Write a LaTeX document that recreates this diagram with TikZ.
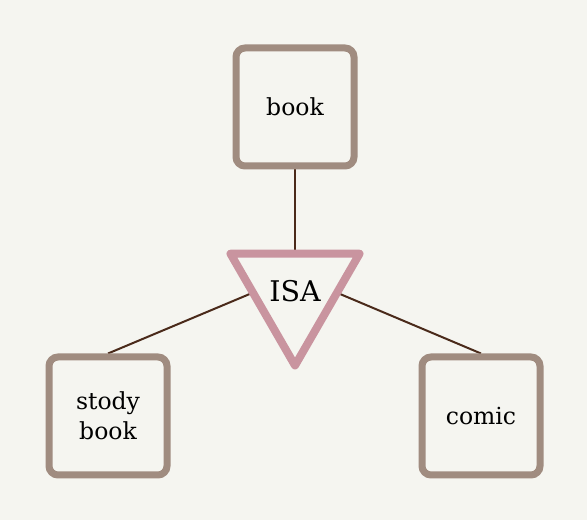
\documentclass[tikz,border=0pt]{standalone}
\usepackage{fontspec}
\setmainfont{DejaVu Serif}
\usetikzlibrary{shapes.geometric,backgrounds}

\definecolor{paper}{HTML}{F5F5F0}
\definecolor{boxline}{HTML}{A08C80}
\definecolor{isapink}{HTML}{C9949F}
\definecolor{linkbrown}{HTML}{4A2A1A}

\tikzset{
    entity/.style={draw=boxline, line width=7pt, fill=paper, rounded corners=9pt,
        minimum width=118pt, minimum height=118pt, inner sep=0pt, align=center,
        font=\fontsize{23.5}{30}\selectfont},
    isabox/.style={regular polygon, regular polygon sides=3, shape border rotate=180,
        draw=isapink, line width=8pt, line join=round, fill=paper,
        minimum size=149pt, inner sep=0pt, font=\fontsize{28.5}{30}\selectfont},
    link/.style={draw=linkbrown, line width=2pt}
}

\begin{document}
\begin{tikzpicture}[x=1pt,y=1pt]
\useasboundingbox (0,0) rectangle (587,520);

\node[entity] (book) at (295,413) {book};
\node[entity] (stody) at (108,104) {stody\\book};
\node[entity] (comic) at (481,104) {comic};
\node[isabox] (isa) at (295,229) {ISA};
\coordinate (hub) at ([yshift=16pt]isa.center);

\begin{pgfonlayer}{background}
\fill[paper] (0,0) rectangle (587,520);
\draw[link] (book.south) -- (hub);
\draw[link] (stody.north) -- (hub);
\draw[link] (comic.north) -- (hub);
\end{pgfonlayer}
\end{tikzpicture}
\end{document}
